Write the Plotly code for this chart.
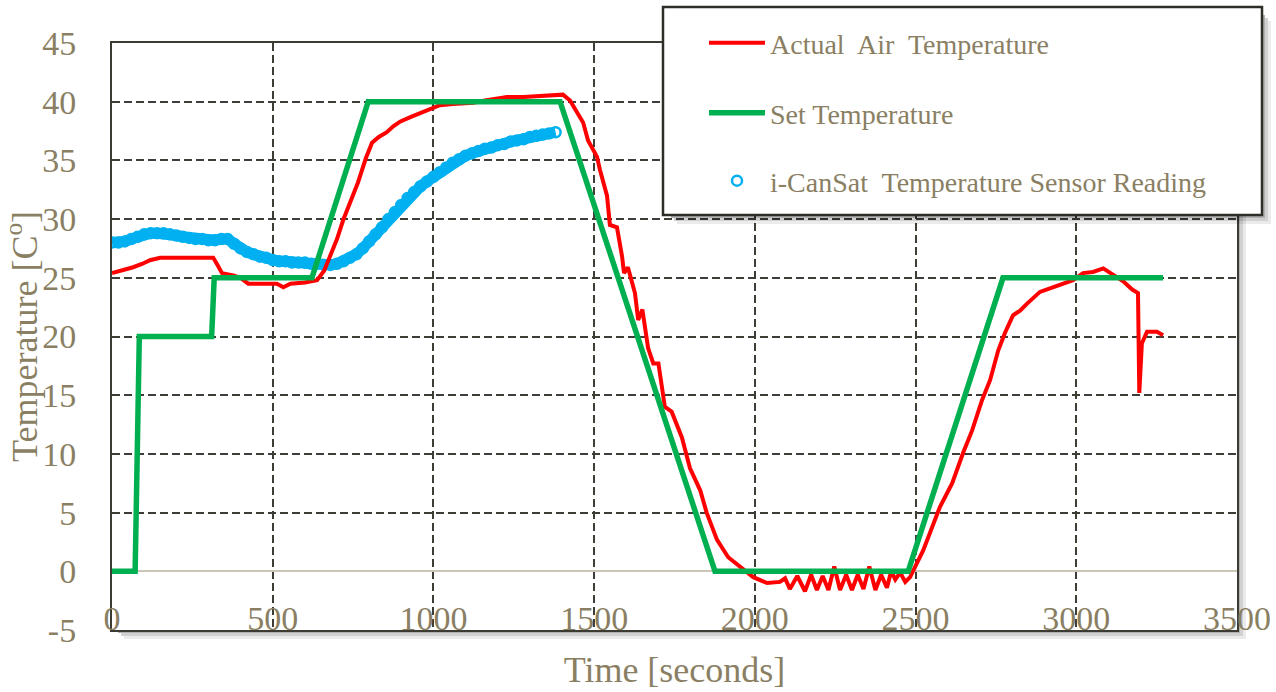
import plotly.graph_objects as go

# ---------------- data ----------------
set_time = [0, 72, 85, 310, 318, 622, 797, 1394, 1876, 2477, 2772, 3270]
set_temp = [0, 0, 20, 20, 25, 25, 40, 40, 0, 0, 25, 25]

air_time = [0, 30, 66, 95, 118, 150, 200, 260, 315, 330, 342, 377, 400, 424, 470, 513, 533, 555,
            600, 638, 660, 678, 700, 719, 745, 765, 790, 809, 830, 855, 875, 896, 930, 968, 990,
            1020, 1060, 1124, 1160, 1200, 1229, 1280, 1332, 1370, 1403, 1425, 1447, 1466, 1481,
            1509, 1518, 1540, 1549, 1571, 1587, 1593, 1605, 1627, 1637, 1650, 1668, 1684, 1700,
            1720, 1741, 1773, 1798, 1830, 1850, 1882, 1917, 1954, 1995, 2038, 2078, 2094, 2109,
            2132, 2156, 2175, 2193, 2211, 2229, 2247, 2265, 2284, 2302, 2320, 2338, 2356, 2375,
            2393, 2411, 2424, 2437, 2452, 2468, 2483, 2524, 2576, 2614, 2648, 2676, 2707, 2732,
            2757, 2778, 2803, 2825, 2847, 2887, 2918, 2959, 2990, 3021, 3052, 3084, 3105, 3146,
            3174, 3192, 3196, 3204, 3220, 3251, 3270]
air_temp = [25.4, 25.6, 25.9, 26.2, 26.5, 26.7, 26.7, 26.7, 26.7, 26.0, 25.4, 25.2, 25.0, 24.5,
            24.5, 24.5, 24.2, 24.5, 24.6, 24.8, 25.6, 26.8, 28.3, 29.9, 31.7, 33.1, 35.2, 36.5,
            37.0, 37.4, 37.9, 38.3, 38.7, 39.1, 39.4, 39.7, 39.8, 39.9, 40.1, 40.3, 40.4, 40.4,
            40.5, 40.5, 40.6, 40.1, 39.0, 38.2, 36.7, 35.3, 34.2, 32.0, 29.5, 29.3, 26.8, 25.4,
            25.9, 23.7, 21.4, 22.3, 19.0, 17.7, 17.7, 14.0, 13.6, 11.4, 8.8, 6.9, 5.0, 2.7, 1.2,
            0.4, -0.5, -1.0, -0.9, -0.6, -1.5, -0.4, -1.7, -0.3, -1.6, -0.4, -1.6, 0.4, -1.6,
            -0.3, -1.6, -0.3, -1.5, 0.4, -1.6, -0.3, -1.4, 0.0, -0.7, -0.1, -0.9, -0.5, 1.8, 5.5,
            7.5, 10.1, 12.0, 14.6, 16.3, 18.8, 20.3, 21.8, 22.2, 22.8, 23.8, 24.1, 24.5, 24.8,
            25.4, 25.5, 25.8, 25.4, 24.7, 24.0, 23.7, 15.2, 19.4, 20.4, 20.4, 20.1]

sensor_time = [0, 20, 40, 60, 80, 100, 120, 140, 160, 180, 200, 220, 240, 260, 280, 300, 320,
               340, 360, 380, 400, 420, 440, 460, 480, 500, 520, 540, 560, 580, 600, 620, 640,
               660, 680, 700, 720, 740, 760, 780, 800, 820, 840, 860, 880, 900, 920, 940, 960,
               980, 1000, 1020, 1040, 1060, 1080, 1100, 1120, 1140, 1160, 1180, 1200, 1220, 1240,
               1260, 1280, 1300, 1320, 1340, 1360, 1380]
sensor_temp = [28.0, 28.0, 28.1, 28.3, 28.5, 28.7, 28.8, 28.8, 28.8, 28.7, 28.6, 28.5, 28.4,
               28.3, 28.3, 28.2, 28.2, 28.3, 28.3, 27.9, 27.5, 27.2, 27.0, 26.8, 26.7, 26.5,
               26.4, 26.4, 26.3, 26.3, 26.3, 26.2, 26.2, 26.1, 26.1, 26.2, 26.4, 26.7, 27.0,
               27.5, 28.1, 28.7, 29.3, 30.0, 30.6, 31.2, 31.8, 32.3, 32.8, 33.2, 33.6, 34.0,
               34.4, 34.8, 35.1, 35.4, 35.6, 35.8, 36.0, 36.1, 36.3, 36.4, 36.6, 36.7, 36.8,
               37.0, 37.1, 37.2, 37.3, 37.4]

x_ticks = [0, 500, 1000, 1500, 2000, 2500, 3000, 3500]
y_ticks = [-5, 0, 5, 10, 15, 20, 25, 30, 35, 40, 45]

# ---------------- style ----------------
FONT = "Times New Roman, Liberation Serif, serif"
TXT = "#8a7f63"
GRID = "#3d3c35"
RED = "#ff0000"
GREEN = "#00b050"
CYAN = "#00b0f0"

W, H = 1276, 692
ML, MR, MT, MB = 112, 39, 43, 62
PW, PH = W - ML - MR, H - MT - MB

def px(xp):
    return (xp - ML) / PW

def py(yp):
    return (H - MB - yp) / PH

fig = go.Figure()

fig.add_trace(go.Scatter(x=sensor_time, y=sensor_temp, mode="lines",
                         line=dict(color=CYAN, width=11), showlegend=False,
                         hoverinfo="skip"))
fig.add_trace(go.Scatter(x=sensor_time, y=sensor_temp, mode="markers",
                         name="i-CanSat  Temperature Sensor Reading",
                         marker=dict(symbol="circle-open", size=10, color=CYAN,
                                     line=dict(width=2.5, color=CYAN)),
                         legend="legend3"))
fig.add_trace(go.Scatter(x=air_time, y=air_temp, mode="lines",
                         name="Actual  Air  Temperature",
                         line=dict(color=RED, width=4), legend="legend"))
fig.add_trace(go.Scatter(x=set_time, y=set_temp, mode="lines",
                         name="Set Temperature",
                         line=dict(color=GREEN, width=5.5), legend="legend2"))

shapes = []
# plot-area drop shadow (outside plot area)
for i, a in enumerate([0.30, 0.18, 0.08]):
    o0, o1 = 3 * i, 3 * (i + 1)
    shapes.append(dict(type="rect", xref="paper", yref="paper", layer="below",
                       x0=px(PW + ML + o0), x1=px(PW + ML + o1),
                       y0=py(MT + 6 + o0), y1=py(H - MB + o1),
                       line=dict(width=0), fillcolor=f"rgba(0,0,0,{a})"))
    shapes.append(dict(type="rect", xref="paper", yref="paper", layer="below",
                       x0=px(ML + 6 + o0), x1=px(PW + ML + o0),
                       y0=py(H - MB + o0), y1=py(H - MB + o1),
                       line=dict(width=0), fillcolor=f"rgba(0,0,0,{a})"))

# legend box with shadow
LX0, LX1, LY0, LY1 = 663, 1262, 7, 215
for i, a in enumerate([0.30, 0.18, 0.08]):
    o0, o1 = 2 + 3 * i, 2 + 3 * (i + 1)
    shapes.append(dict(type="rect", xref="paper", yref="paper", layer="above",
                       x0=px(LX1 + o0 - 2), x1=px(LX1 + o1 - 2),
                       y0=py(LY0 + 6 + o0), y1=py(LY1 + o1 - 2),
                       line=dict(width=0), fillcolor=f"rgba(0,0,0,{a})"))
    shapes.append(dict(type="rect", xref="paper", yref="paper", layer="above",
                       x0=px(LX0 + 6 + o0), x1=px(LX1 + o0 - 2),
                       y0=py(LY1 + o0 - 2), y1=py(LY1 + o1 - 2),
                       line=dict(width=0), fillcolor=f"rgba(0,0,0,{a})"))
shapes.append(dict(type="rect", xref="paper", yref="paper", layer="above",
                   x0=px(LX0), x1=px(LX1), y0=py(LY1), y1=py(LY0),
                   line=dict(color="#2e2d28", width=2.5), fillcolor="white"))

leg_common = dict(xanchor="left", yanchor="middle", bgcolor="rgba(0,0,0,0)",
                  borderwidth=0, itemwidth=56,
                  font=dict(family=FONT, size=28, color=TXT))

fig.update_layout(
    width=W, height=H,
    margin=dict(l=ML, r=MR, t=MT, b=MB, autoexpand=False),
    paper_bgcolor="white", plot_bgcolor="white",
    font=dict(family=FONT, color=TXT),
    shapes=shapes,
    legend=dict(x=px(704), y=py(43), **leg_common),
    legend2=dict(x=px(704), y=py(113), **leg_common),
    legend3=dict(x=px(704), y=py(181), **leg_common),
    xaxis=dict(range=[0, 3500], tickvals=x_ticks, ticktext=[str(v) for v in x_ticks],
               showgrid=True, gridcolor=GRID, gridwidth=1.5, griddash="8px,4px",
               zeroline=False, showline=True, linecolor="#3b3a33", linewidth=2,
               mirror=True, ticks="", ticklabelstandoff=-43, automargin=False,
               tickfont=dict(family=FONT, size=34, color=TXT),
               title=dict(text="Time [seconds]", font=dict(family=FONT, size=36, color=TXT),
                          standoff=21)),
    yaxis=dict(range=[-5, 45], tickvals=y_ticks, ticktext=[str(v) for v in y_ticks],
               showgrid=True, gridcolor=GRID, gridwidth=1.5, griddash="8px,4px",
               zeroline=True, zerolinecolor="#cbc6b6", zerolinewidth=2,
               showline=True, linecolor="#3b3a33", linewidth=2, mirror=True,
               ticks="", ticklabelstandoff=27, automargin=False,
               tickfont=dict(family=FONT, size=34, color=TXT),
               title=dict(text="Temperature [C<sup>o</sup>]",
                          font=dict(family=FONT, size=36, color=TXT), standoff=0)),
)

fig.write_html("out.html",
               config={"displayModeBar": False},
               post_script="document.body.style.margin='0';"
                           "document.body.style.overflow='hidden';")
